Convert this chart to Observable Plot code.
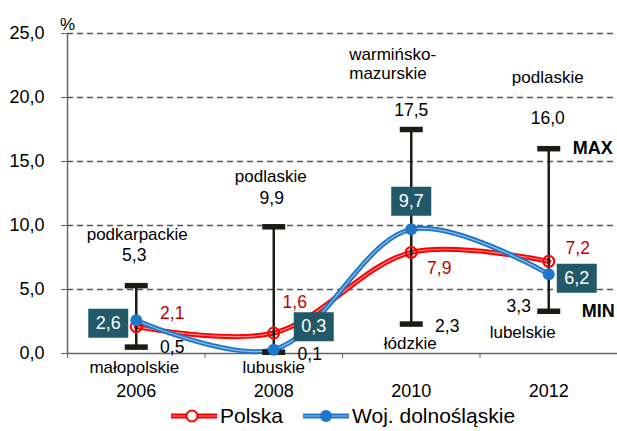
<!DOCTYPE html>
<html>
<head>
<meta charset="utf-8">
<script src="https://cdn.jsdelivr.net/npm/d3@7"></script>
<script src="https://cdn.jsdelivr.net/npm/@observablehq/plot@0.6"></script>
<style>
  body { margin: 0; background: #fff; font-family: "Liberation Sans", Arial, sans-serif; }
  #legend { height: 31px; display: flex; align-items: center; padding-left: 171px; font-size: 21px; color: #000; }
  #legend .item { display: flex; align-items: center; margin-right: 20px; }
  #legend svg { margin-right: 3px; }
</style>
</head>
<body>
<div id="chart"></div>
<div id="legend"></div>
<script>
// ---- data ----
const years = [2006, 2008, 2010, 2012];
const polska = [2.1, 1.6, 7.9, 7.2];
const dolnoslaskie = [2.6, 0.3, 9.7, 6.2];
const maxValues = [5.3, 9.9, 17.5, 16.0];
const maxRegions = ["podkarpackie", "podlaskie", "warmińsko-\nmazurskie", "podlaskie"];
const minValues = [0.5, 0.1, 2.3, 3.3];
const minRegions = ["małopolskie", "lubuskie", "łódzkie", "lubelskie"];
const yTicks = [0, 5, 10, 15, 20, 25];
const seriesNames = ["Polska", "Woj. dolnośląskie"];
const xDomain = [2005, 2013];

// ---- styles / layout ----
const RED = "#ff0000", RED_TXT = "#c00000", BLUE = "#1f77c8", TEAL = "#215968", BAR = "#1c1c16";
const fmt = v => v.toFixed(1).replace(".", ",");
const rows = years.map((year, i) => ({year, polska: polska[i], dolny: dolnoslaskie[i], max: maxValues[i], min: minValues[i]}));

const off = {
  maxVal: [[-2, -30], [-2, -28], [0, -19], [-1, -30]],
  maxName: [[1, -51], [-3, -50], [-62, -66], [-1, -71]],
  minVal: [[36, 0], [36, 2], [36, 2], [-30, -5]],
  minName: [[-2, 20], [0, 15], [-1, 19], [-26, 21]],
  red: [[36, -13], [21, -31], [28, 16], [29, -13]],
  box: [[-28, 3], [40, -23], [0, -28], [28, 4]]
};

function lbl(i, yArr, text, o, extra = {}) {
  return Plot.text([i], {
    x: j => years[j], y: j => yArr[j], text: j => text(j),
    dx: o[i][0], dy: o[i][1], ...extra
  });
}

const boxSymbol = { draw(ctx) { ctx.rect(-20, -14.5, 40, 29); } };
const capSymbol = { draw(ctx) { ctx.rect(-11.5, -2.75, 23, 5.5); } };

const marks = [
  Plot.ruleY(yTicks.filter(d => d > 0), {stroke: "#555", strokeWidth: 1.3, strokeDasharray: "6,4"}),
  Plot.ruleY([0], {stroke: "#666", strokeWidth: 1.5}),
  Plot.ruleX([xDomain[0]], {stroke: "#666", strokeWidth: 1.5}),
  Plot.axisY({ticks: yTicks, tickFormat: fmt, tickSize: 6, tickPadding: 17, fontSize: 18, stroke: "#666", label: null}),
  Plot.axisX({ticks: d3.range(xDomain[0], xDomain[1] + 1, 2), tickFormat: () => "", tickSize: 5, stroke: "#666", label: null}),
  Plot.axisX({ticks: years, tickFormat: d => String(d), tickSize: 0, tickPadding: 31, fontSize: 18, label: null}),
  Plot.text(["%"], {frameAnchor: "top-left", dy: -16, fontSize: 17, textAnchor: "middle"}),
  // lines
  Plot.line(rows, {x: "year", y: "polska", stroke: RED, strokeWidth: 5, curve: "catmull-rom"}),
  Plot.line(rows, {x: "year", y: "polska", stroke: "#fff", strokeOpacity: 0.55, strokeWidth: 1.2, curve: "catmull-rom"}),
  Plot.line(rows, {x: "year", y: "dolny", stroke: BLUE, strokeWidth: 5, curve: "catmull-rom"}),
  Plot.line(rows, {x: "year", y: "dolny", stroke: "#fff", strokeOpacity: 0.5, strokeWidth: 1.2, curve: "catmull-rom"}),
  // min-max bars
  Plot.ruleX(rows, {x: "year", y1: "min", y2: "max", stroke: BAR, strokeWidth: 2.5}),
  Plot.dot(rows, {x: "year", y: "max", symbol: capSymbol, r: 5, fill: BAR}),
  Plot.dot(rows, {x: "year", y: "min", symbol: capSymbol, r: 5, fill: BAR}),
  // markers
  Plot.dot(rows, {x: "year", y: "polska", r: 5.5, stroke: RED, strokeWidth: 2, fill: "none"}),
  Plot.dot(rows, {x: "year", y: "dolny", r: 6, fill: BLUE}),
  Plot.text([3], {x: j => years[j], y: j => maxValues[j], text: () => "MAX", dx: 24, textAnchor: "start", fontWeight: "bold", fontSize: 18}),
  Plot.text([3], {x: j => years[j], y: j => minValues[j], text: () => "MIN", dx: 33, textAnchor: "start", fontWeight: "bold", fontSize: 18}),
];

years.forEach((yr, i) => {
  marks.push(lbl(i, maxValues, j => fmt(maxValues[j]), off.maxVal, {fontSize: 17.5}));
  if (maxRegions[i].includes("\n")) {
    marks.push(lbl(i, maxValues, j => maxRegions[j], off.maxName, {fontSize: 17, textAnchor: "start", lineHeight: 1.12}));
  } else {
    marks.push(lbl(i, maxValues, j => maxRegions[j], off.maxName, {fontSize: 17}));
  }
  marks.push(lbl(i, minValues, j => fmt(minValues[j]), off.minVal, {fontSize: 17.5}));
  marks.push(lbl(i, minValues, j => minRegions[j], off.minName, {fontSize: 17}));
  marks.push(lbl(i, polska, j => fmt(polska[j]), off.red, {fontSize: 17.5, fill: RED_TXT}));
  marks.push(Plot.dot([i], {x: j => years[j], y: j => dolnoslaskie[j], symbol: boxSymbol, r: 5, fill: TEAL, dx: off.box[i][0], dy: off.box[i][1]}));
  marks.push(lbl(i, dolnoslaskie, j => fmt(dolnoslaskie[j]), off.box, {fontSize: 18, fill: "#fff"}));
});

const chart = Plot.plot({
  width: 617,
  height: 400,
  marginLeft: 67,
  marginRight: 0,
  marginTop: 33,
  marginBottom: 47,
  style: {fontFamily: "'Liberation Sans', Arial, sans-serif", color: "#000", background: "#fff", overflow: "visible"},
  x: {type: "linear", domain: xDomain},
  y: {domain: [0, 25]},
  marks
});
document.getElementById("chart").appendChild(chart);

// legend
const legend = document.getElementById("legend");
const swatch = (color, open) => `<svg width="46" height="16"><line x1="0" y1="8" x2="46" y2="8" stroke="${color}" stroke-width="5"/><line x1="0" y1="8" x2="46" y2="8" stroke="#fff" stroke-opacity="0.5" stroke-width="1.2"/>` +
  (open ? `<circle cx="21" cy="8" r="5.5" fill="#fff" stroke="${color}" stroke-width="2"/>` : `<circle cx="23" cy="8" r="6" fill="${color}"/>`) + `</svg>`;
legend.innerHTML = `<div class="item">${swatch(RED, true)}<span>${seriesNames[0]}</span></div>` +
  `<div class="item">${swatch(BLUE, false)}<span>${seriesNames[1]}</span></div>`;
</script>
</body>
</html>
